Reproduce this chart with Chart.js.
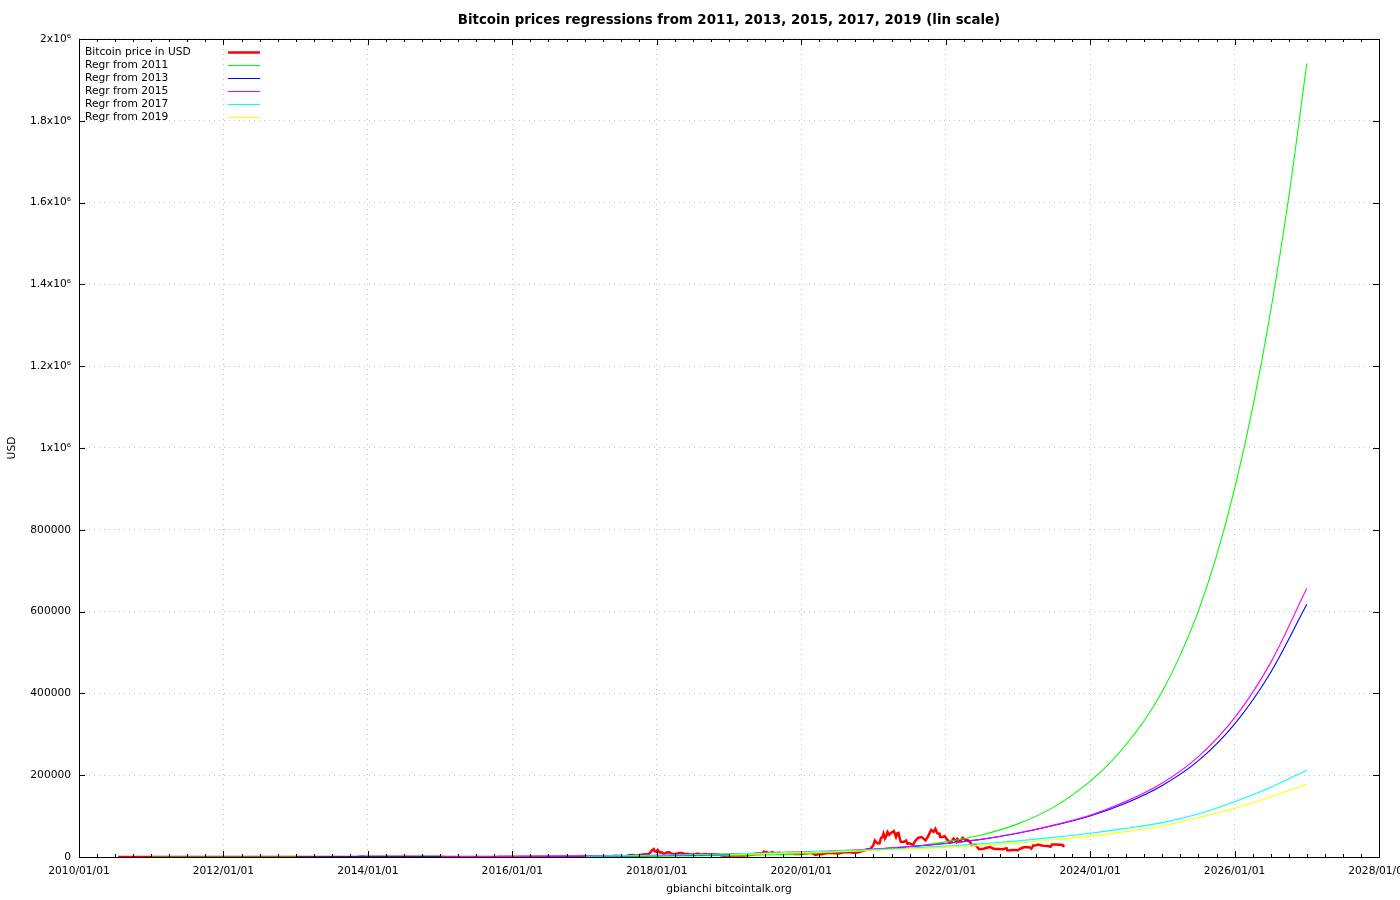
<!DOCTYPE html>
<html>
<head>
<meta charset="utf-8">
<script src="https://cdn.jsdelivr.net/npm/chart.js@4.4.1/dist/chart.umd.min.js"></script>
<style>
html,body{margin:0;padding:0;background:#ffffff;}
canvas{display:block;}
</style>
</head>
<body>
<canvas id="chart" width="1400" height="900"></canvas>
<script>
// ---------------- text ----------------
const chartTitle = 'Bitcoin prices regressions from 2011, 2013, 2015, 2017, 2019 (lin scale)';
const xAxisTitle = 'gbianchi bitcointalk.org';
const yAxisTitle = 'USD';
const seriesLabels = ['Bitcoin price in USD', 'Regr from 2011', 'Regr from 2013', 'Regr from 2015', 'Regr from 2017', 'Regr from 2019'];
const xTickLabels = ['2010/01/01','2012/01/01','2014/01/01','2016/01/01','2018/01/01','2020/01/01','2022/01/01','2024/01/01','2026/01/01','2028/01/01'];
const yTickLabels = ['0','200000','400000','600000','800000','1x10\u2076','1.2x10\u2076','1.4x10\u2076','1.6x10\u2076','1.8x10\u2076','2x10\u2076'];

// ---------------- price data ----------------
const priceDates = [
 '2010-07-18','2010-08-01','2010-09-01','2010-10-01','2010-11-01','2010-12-01',
 '2011-01-01','2011-02-01','2011-03-01','2011-04-01','2011-05-01','2011-06-01','2011-06-08','2011-07-01','2011-08-01','2011-09-01','2011-10-01','2011-11-01','2011-12-01',
 '2012-01-01','2012-02-01','2012-03-01','2012-04-01','2012-05-01','2012-06-01','2012-07-01','2012-08-01','2012-09-01','2012-10-01','2012-11-01','2012-12-01',
 '2013-01-01','2013-02-01','2013-03-01','2013-04-01','2013-04-09','2013-04-16','2013-05-01','2013-06-01','2013-07-01','2013-08-01','2013-09-01','2013-10-01','2013-11-01','2013-11-30','2013-12-18',
 '2014-01-01','2014-02-01','2014-03-01','2014-04-01','2014-05-01','2014-06-01','2014-07-01','2014-08-01','2014-09-01','2014-10-01','2014-11-01','2014-12-01',
 '2015-01-01','2015-02-01','2015-03-01','2015-04-01','2015-05-01','2015-06-01','2015-07-01','2015-08-01','2015-09-01','2015-10-01','2015-11-01','2015-12-01',
 '2016-01-01','2016-02-01','2016-03-01','2016-04-01','2016-05-01','2016-06-01','2016-07-01','2016-08-01','2016-09-01','2016-10-01','2016-11-01','2016-12-01',
 '2017-01-01','2017-01-12','2017-02-01','2017-02-15','2017-03-01','2017-03-15','2017-03-25','2017-04-15','2017-05-01','2017-05-15','2017-05-25','2017-06-12','2017-06-25','2017-07-15','2017-08-01','2017-08-15','2017-09-01','2017-09-15','2017-10-01','2017-10-15','2017-11-01','2017-11-12','2017-11-25','2017-12-07','2017-12-17','2017-12-22','2017-12-30',
 '2018-01-06','2018-01-16','2018-01-27','2018-02-06','2018-02-20','2018-03-05','2018-03-18','2018-04-01','2018-04-24','2018-05-05','2018-05-20','2018-06-01','2018-06-15','2018-06-29','2018-07-15','2018-07-25','2018-08-10','2018-08-25','2018-09-05','2018-09-15','2018-10-01','2018-10-15','2018-11-01','2018-11-15','2018-11-25','2018-12-15','2018-12-25',
 '2019-01-15','2019-02-01','2019-02-15','2019-03-01','2019-03-15','2019-04-01','2019-04-15','2019-05-01','2019-05-15','2019-06-01','2019-06-15','2019-06-26','2019-07-01','2019-07-10','2019-07-17','2019-08-01','2019-08-06','2019-08-15','2019-09-01','2019-09-15','2019-09-25','2019-10-15','2019-10-26','2019-11-15','2019-11-25','2019-12-15',
 '2020-01-01','2020-01-15','2020-02-01','2020-02-13','2020-03-01','2020-03-12','2020-03-25','2020-04-15','2020-05-01','2020-05-15','2020-06-01','2020-06-15','2020-07-01','2020-07-15','2020-08-01','2020-08-15','2020-09-01','2020-09-15','2020-10-01','2020-10-15','2020-11-01','2020-11-15','2020-12-01','2020-12-15','2020-12-25',
 '2021-01-01','2021-01-08','2021-01-15','2021-01-22','2021-02-01','2021-02-08','2021-02-15','2021-02-21','2021-02-28','2021-03-08','2021-03-13','2021-03-22','2021-04-01','2021-04-14','2021-04-25','2021-05-01','2021-05-08','2021-05-12','2021-05-19','2021-06-01','2021-06-15','2021-06-22','2021-07-01','2021-07-20','2021-08-01','2021-08-15','2021-09-01','2021-09-07','2021-09-21','2021-10-01','2021-10-15','2021-10-20','2021-11-01','2021-11-10','2021-11-20','2021-12-01','2021-12-04','2021-12-15','2021-12-27',
 '2022-01-01','2022-01-10','2022-01-22','2022-02-01','2022-02-10','2022-02-24','2022-03-01','2022-03-15','2022-03-28','2022-04-10','2022-04-25','2022-05-05','2022-05-12','2022-05-20','2022-06-01','2022-06-13','2022-06-18','2022-07-01','2022-07-15','2022-08-01','2022-08-14','2022-09-01','2022-09-15','2022-10-01','2022-10-15','2022-11-05','2022-11-09','2022-11-20','2022-12-01','2022-12-15',
 '2023-01-01','2023-01-15','2023-02-01','2023-02-15','2023-03-01','2023-03-10','2023-03-20','2023-04-01','2023-04-14','2023-05-01','2023-05-15','2023-06-01','2023-06-15','2023-06-23','2023-07-01','2023-07-15','2023-08-01','2023-08-15','2023-08-18','2023-08-25'
];
const priceValues = [
 0.05,0.07,0.06,0.06,0.2,0.21,
 0.3,0.9,0.85,0.78,3.5,9.6,29.6,15.4,13.1,8.2,5.1,3.2,3.1,
 5.3,5.5,4.9,4.9,5.0,5.3,6.7,9.4,10.2,12.4,10.6,12.5,
 13.3,20.4,34.5,93,230,68,116,129,88,105,141,125,206,1130,520,
 770,830,560,480,450,650,640,590,480,390,340,380,
 315,225,260,245,235,225,260,280,230,238,325,378,
 434,370,435,416,450,530,675,625,572,610,700,750,
 1000,800,970,1010,1220,1250,960,1180,1420,1700,2400,2900,2500,1950,2700,4200,4700,3300,4400,5700,6700,5900,8700,16000,19300,14000,12600,
 17100,11200,11700,6900,11200,11500,7800,6800,9600,9800,8200,7500,6500,5900,6350,8200,6300,6700,7400,6500,6600,6700,6350,5600,3900,3200,3800,
 3600,3450,3600,3800,3950,4100,5100,5400,8000,8500,8800,12900,10600,12300,9500,10400,11900,10300,9600,10300,8400,8400,9500,8600,7100,7100,
 7200,8800,9400,10300,8500,4900,6700,6700,8800,9600,10200,9400,9200,9200,11700,11900,11900,10800,10600,11400,13800,16000,19200,19400,24700,
 29400,40500,36700,33000,33500,46400,48700,57500,45200,52300,61200,54500,59000,63500,49000,57800,58900,49000,37000,36600,40200,32500,33600,29800,39900,47000,48900,46800,40600,48100,61500,66000,61300,68800,58000,57000,49000,48800,50600,
 47700,41800,35000,38700,45000,37000,44400,39300,47100,42200,40400,36500,29000,29200,29800,22500,19000,19300,20800,23300,24400,20100,19700,19300,19100,21300,16000,16300,17000,17400,
 16600,20900,23700,24300,23600,20200,28000,28400,30500,28000,27200,26800,25100,30500,30600,30300,29700,29200,26600,26100
];

// ---------------- regression curves ----------------
const reg2011Dates = ['2011-01-01','2012-01-01','2013-01-01','2014-01-01','2015-01-01','2016-01-01','2017-01-01','2018-01-01','2019-01-01','2020-01-01','2021-01-01','2021-07-01','2022-01-01','2022-07-01','2023-01-01','2023-07-01','2024-01-01','2024-04-01','2024-07-01','2024-10-01','2025-01-01','2025-04-01','2025-07-01','2025-10-01','2026-01-01','2026-04-01','2026-07-01','2026-10-01','2027-01-01'];
const reg2011Values = [6.5,14,31,68,150,330,730,1600,3500,7700,17000,25000,37000,54000,81000,122000,185000,225000,275000,333000,405000,493000,600000,735000,900000,1095000,1330000,1610000,1940000];

const reg2013Dates = ['2013-01-01','2014-01-01','2015-01-01','2016-01-01','2017-01-01','2018-01-01','2019-01-01','2020-01-01','2021-01-01','2021-07-01','2022-01-01','2022-07-01','2023-01-01','2023-07-01','2024-01-01','2024-07-01','2025-01-01','2025-07-01','2026-01-01','2026-07-01','2027-01-01'];
const reg2013Values = [170,320,600,1100,2000,3600,6300,11000,19000,25000,33000,43000,58000,77000,100000,132000,175000,235000,325000,450000,618000];

const reg2015Dates = ['2015-01-01','2016-01-01','2017-01-01','2018-01-01','2019-01-01','2020-01-01','2021-01-01','2021-07-01','2022-01-01','2022-07-01','2023-01-01','2023-07-01','2024-01-01','2024-07-01','2025-01-01','2025-07-01','2026-01-01','2026-07-01','2027-01-01'];
const reg2015Values = [700,1300,2400,4300,7500,12500,19500,25500,33000,43500,58500,78000,102000,136000,181000,245000,340000,474000,657000];

const reg2017Dates = ['2017-01-01','2018-01-01','2019-01-01','2020-01-01','2021-01-01','2021-07-01','2022-01-01','2022-07-01','2023-01-01','2023-07-01','2024-01-01','2024-07-01','2025-01-01','2025-07-01','2026-01-01','2026-07-01','2027-01-01'];
const reg2017Values = [2000,4200,7500,12000,18000,22000,26500,32500,39500,48000,58000,70000,84000,105000,135000,170000,212000];

const reg2019Dates = ['2019-01-01','2020-01-01','2021-01-01','2021-07-01','2022-01-01','2022-07-01','2023-01-01','2023-07-01','2024-01-01','2024-07-01','2025-01-01','2025-07-01','2026-01-01','2026-07-01','2027-01-01'];
const reg2019Values = [5500,10000,16000,19500,23500,28500,34500,42000,51000,62000,76000,96000,119000,147000,178000];

// ---------------- helpers ----------------
function toYear(s) {
  const p = s.split('-').map(Number);
  const start = Date.UTC(p[0], 0, 1), end = Date.UTC(p[0] + 1, 0, 1);
  return p[0] + (Date.UTC(p[0], p[1] - 1, p[2]) - start) / (end - start);
}
function pts(dates, values) {
  const n = Math.min(dates.length, values.length);
  const out = [];
  for (let i = 0; i < n; i++) out.push({x: toYear(dates[i]), y: values[i]});
  return out;
}

const FONT = 'DejaVu Sans';
Chart.defaults.font.family = FONT;
Chart.defaults.font.size = 10.67;
Chart.defaults.color = '#000000';

function regDataset(label, dates, values, color, order) {
  return {
    label: label, data: pts(dates, values), borderColor: color, backgroundColor: color,
    borderWidth: 1.1, pointRadius: 0, fill: false, cubicInterpolationMode: 'monotone', order: order
  };
}

// gnuplot-like frame: border box, inward ticks (mirrored), in-plot legend
const gnuplotFrame = {
  id: 'gnuplotFrame',
  afterDraw(chart) {
    const ctx = chart.ctx, a = chart.chartArea, xs = chart.scales.x, ys = chart.scales.y;
    ctx.save();
    ctx.strokeStyle = '#000000';
    ctx.lineWidth = 1;
    ctx.beginPath();
    const minorStep = 0.25, majorStep = 2;
    const nMinor = Math.round((xs.max - xs.min) / minorStep);
    for (let q = 0; q <= nMinor; q++) {
      const v = xs.min + q * minorStep;
      const px = Math.round(xs.getPixelForValue(v)) + 0.5;
      const isMajor = Math.abs((v - xs.min) / majorStep - Math.round((v - xs.min) / majorStep)) < 1e-6;
      const len = isMajor ? 6 : 3;
      ctx.moveTo(px, a.bottom); ctx.lineTo(px, a.bottom - len);
      ctx.moveTo(px, a.top); ctx.lineTo(px, a.top + len);
    }
    ys.ticks.forEach(t => {
      const py = Math.round(ys.getPixelForValue(t.value)) + 0.5;
      ctx.moveTo(a.left, py); ctx.lineTo(a.left + 6, py);
      ctx.moveTo(a.right, py); ctx.lineTo(a.right - 6, py);
    });
    ctx.stroke();
    ctx.strokeRect(Math.round(a.left) + 0.5, Math.round(a.top) + 0.5, Math.round(a.right - a.left), Math.round(a.bottom - a.top));

    // legend
    ctx.font = '10.67px "' + FONT + '"';
    ctx.textBaseline = 'middle';
    ctx.textAlign = 'left';
    chart.data.datasets.forEach((ds, i) => {
      const yy = a.top + 13 + i * 12.95;
      ctx.fillStyle = '#000000';
      ctx.fillText(ds.label, a.left + 6, yy);
      ctx.beginPath();
      ctx.strokeStyle = ds.borderColor;
      ctx.lineWidth = ds.borderWidth > 2 ? ds.borderWidth : 1;
      ctx.moveTo(a.left + 149, Math.round(yy) + 0.5);
      ctx.lineTo(a.left + 181, Math.round(yy) + 0.5);
      ctx.stroke();
    });
    ctx.restore();
  }
};

new Chart(document.getElementById('chart'), {
  type: 'line',
  data: {
    datasets: [
      {label: seriesLabels[0], data: pts(priceDates, priceValues), borderColor: '#ff0000', backgroundColor: '#ff0000',
       borderWidth: 2.5, pointRadius: 0, fill: false, tension: 0, order: 6},
      regDataset(seriesLabels[1], reg2011Dates, reg2011Values, '#00ff00', 5),
      regDataset(seriesLabels[2], reg2013Dates, reg2013Values, '#0000ff', 4),
      regDataset(seriesLabels[3], reg2015Dates, reg2015Values, '#ff00ff', 3),
      regDataset(seriesLabels[4], reg2017Dates, reg2017Values, '#00ffff', 2),
      regDataset(seriesLabels[5], reg2019Dates, reg2019Values, '#ffff00', 1)
    ]
  },
  options: {
    responsive: false,
    devicePixelRatio: 1,
    animation: false,
    events: [],
    layout: {autoPadding: false, padding: {left: 0, right: 21, top: 0, bottom: 0}},
    plugins: {
      legend: {display: false},
      tooltip: {enabled: false},
      title: {
        display: true, text: chartTitle, fullSize: false, color: '#000000',
        font: {family: FONT, size: 13.33, weight: 'bold', lineHeight: 1.2},
        padding: {top: 13, bottom: 10}
      }
    },
    scales: {
      x: {
        type: 'linear', min: 2010, max: 2028,
        afterFit(scale) { scale.height = 43; scale.paddingLeft = 0; scale.paddingRight = 0; },
        ticks: {stepSize: 2, autoSkip: false, maxRotation: 0, padding: 8, color: '#000000',
                callback: (v, i) => xTickLabels[i]},
        grid: {drawTicks: false, color: '#c4c4c4', lineWidth: 1},
        border: {display: false, dash: [1, 4]},
        title: {display: true, text: xAxisTitle, color: '#000000', padding: {top: 0, bottom: 4},
                font: {family: FONT, size: 10.67}}
      },
      y: {
        type: 'linear', min: 0, max: 2000000,
        afterFit(scale) { scale.width = 79; scale.paddingTop = 0; scale.paddingBottom = 0; },
        ticks: {stepSize: 200000, autoSkip: false, padding: 8, color: '#000000',
                callback: (v, i) => yTickLabels[i]},
        grid: {drawTicks: false, color: '#c4c4c4', lineWidth: 1},
        border: {display: false, dash: [1, 4]},
        title: {display: true, text: yAxisTitle, color: '#000000', padding: {top: 6, bottom: 0},
                font: {family: FONT, size: 10.67}}
      }
    }
  },
  plugins: [gnuplotFrame]
});
</script>
</body>
</html>
